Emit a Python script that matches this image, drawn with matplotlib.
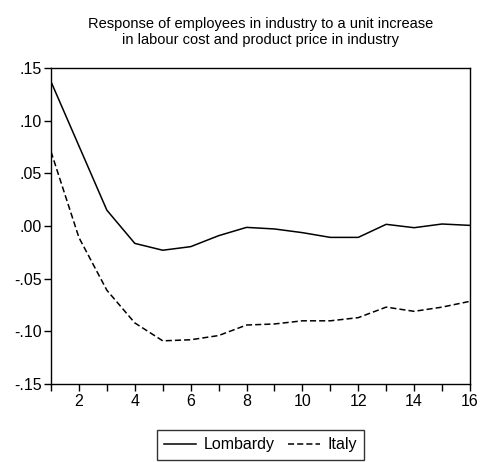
import numpy as np
import matplotlib
matplotlib.use("Agg")
import matplotlib.pyplot as plt
from matplotlib.ticker import FuncFormatter, MultipleLocator

plt.rcParams['font.family'] = ['Liberation Sans', 'DejaVu Sans']

periods = list(range(1, 17))
lombardy = [0.137, 0.076, 0.015, -0.0165, -0.023, -0.0196, -0.0092, -0.0013,
            -0.0028, -0.0063, -0.0108, -0.0108, 0.0016, -0.0016, 0.0019, 0.0006]
italy = [0.0706, -0.011, -0.061, -0.092, -0.109, -0.108, -0.104, -0.094,
         -0.093, -0.090, -0.090, -0.087, -0.077, -0.081, -0.077, -0.0715]

title = "Response of employees in industry to a unit increase\nin labour cost and product price in industry"


def fmt(v, pos):
    s = "%.2f" % v
    if s.startswith("-0"):
        return "-" + s[2:]
    if s.startswith("0"):
        return s[1:]
    return s


fig = plt.figure(figsize=(4.84, 4.62), dpi=100)
ax = fig.add_axes([0.1054, 0.1688, 0.8656, 0.684])

ax.plot(periods, lombardy, color="black", lw=1.1, label="Lombardy")
ax.plot(periods, italy, color="black", lw=1.1, ls=(0, (4, 2)), label="Italy")

ax.set_xlim(1, 16)
ax.set_ylim(-0.15, 0.15)
ax.xaxis.set_major_locator(MultipleLocator(2))
ax.xaxis.set_minor_locator(MultipleLocator(1))
ax.yaxis.set_major_locator(MultipleLocator(0.05))
ax.yaxis.set_major_formatter(FuncFormatter(fmt))
ax.tick_params(which="both", direction="out", length=5, width=1, labelsize=11.5)
ax.tick_params(axis="x", pad=2.5)
ax.tick_params(axis="y", pad=1.5)
for sp in ax.spines.values():
    sp.set_linewidth(1)

ax.set_title(title, fontsize=10.5, pad=17, linespacing=1.2)

# legend box sits below the axes, frame top ~46px under the x axis
leg = ax.legend(loc="upper center", bbox_to_anchor=(0.5, -0.146), ncol=2,
                frameon=True, fancybox=False, edgecolor="black", fontsize=11.5,
                handlelength=2.0, columnspacing=0.8, borderpad=0.45,
                handletextpad=0.5, borderaxespad=0)
leg.get_frame().set_linewidth(1)

fig.savefig("out.png", dpi=100)
